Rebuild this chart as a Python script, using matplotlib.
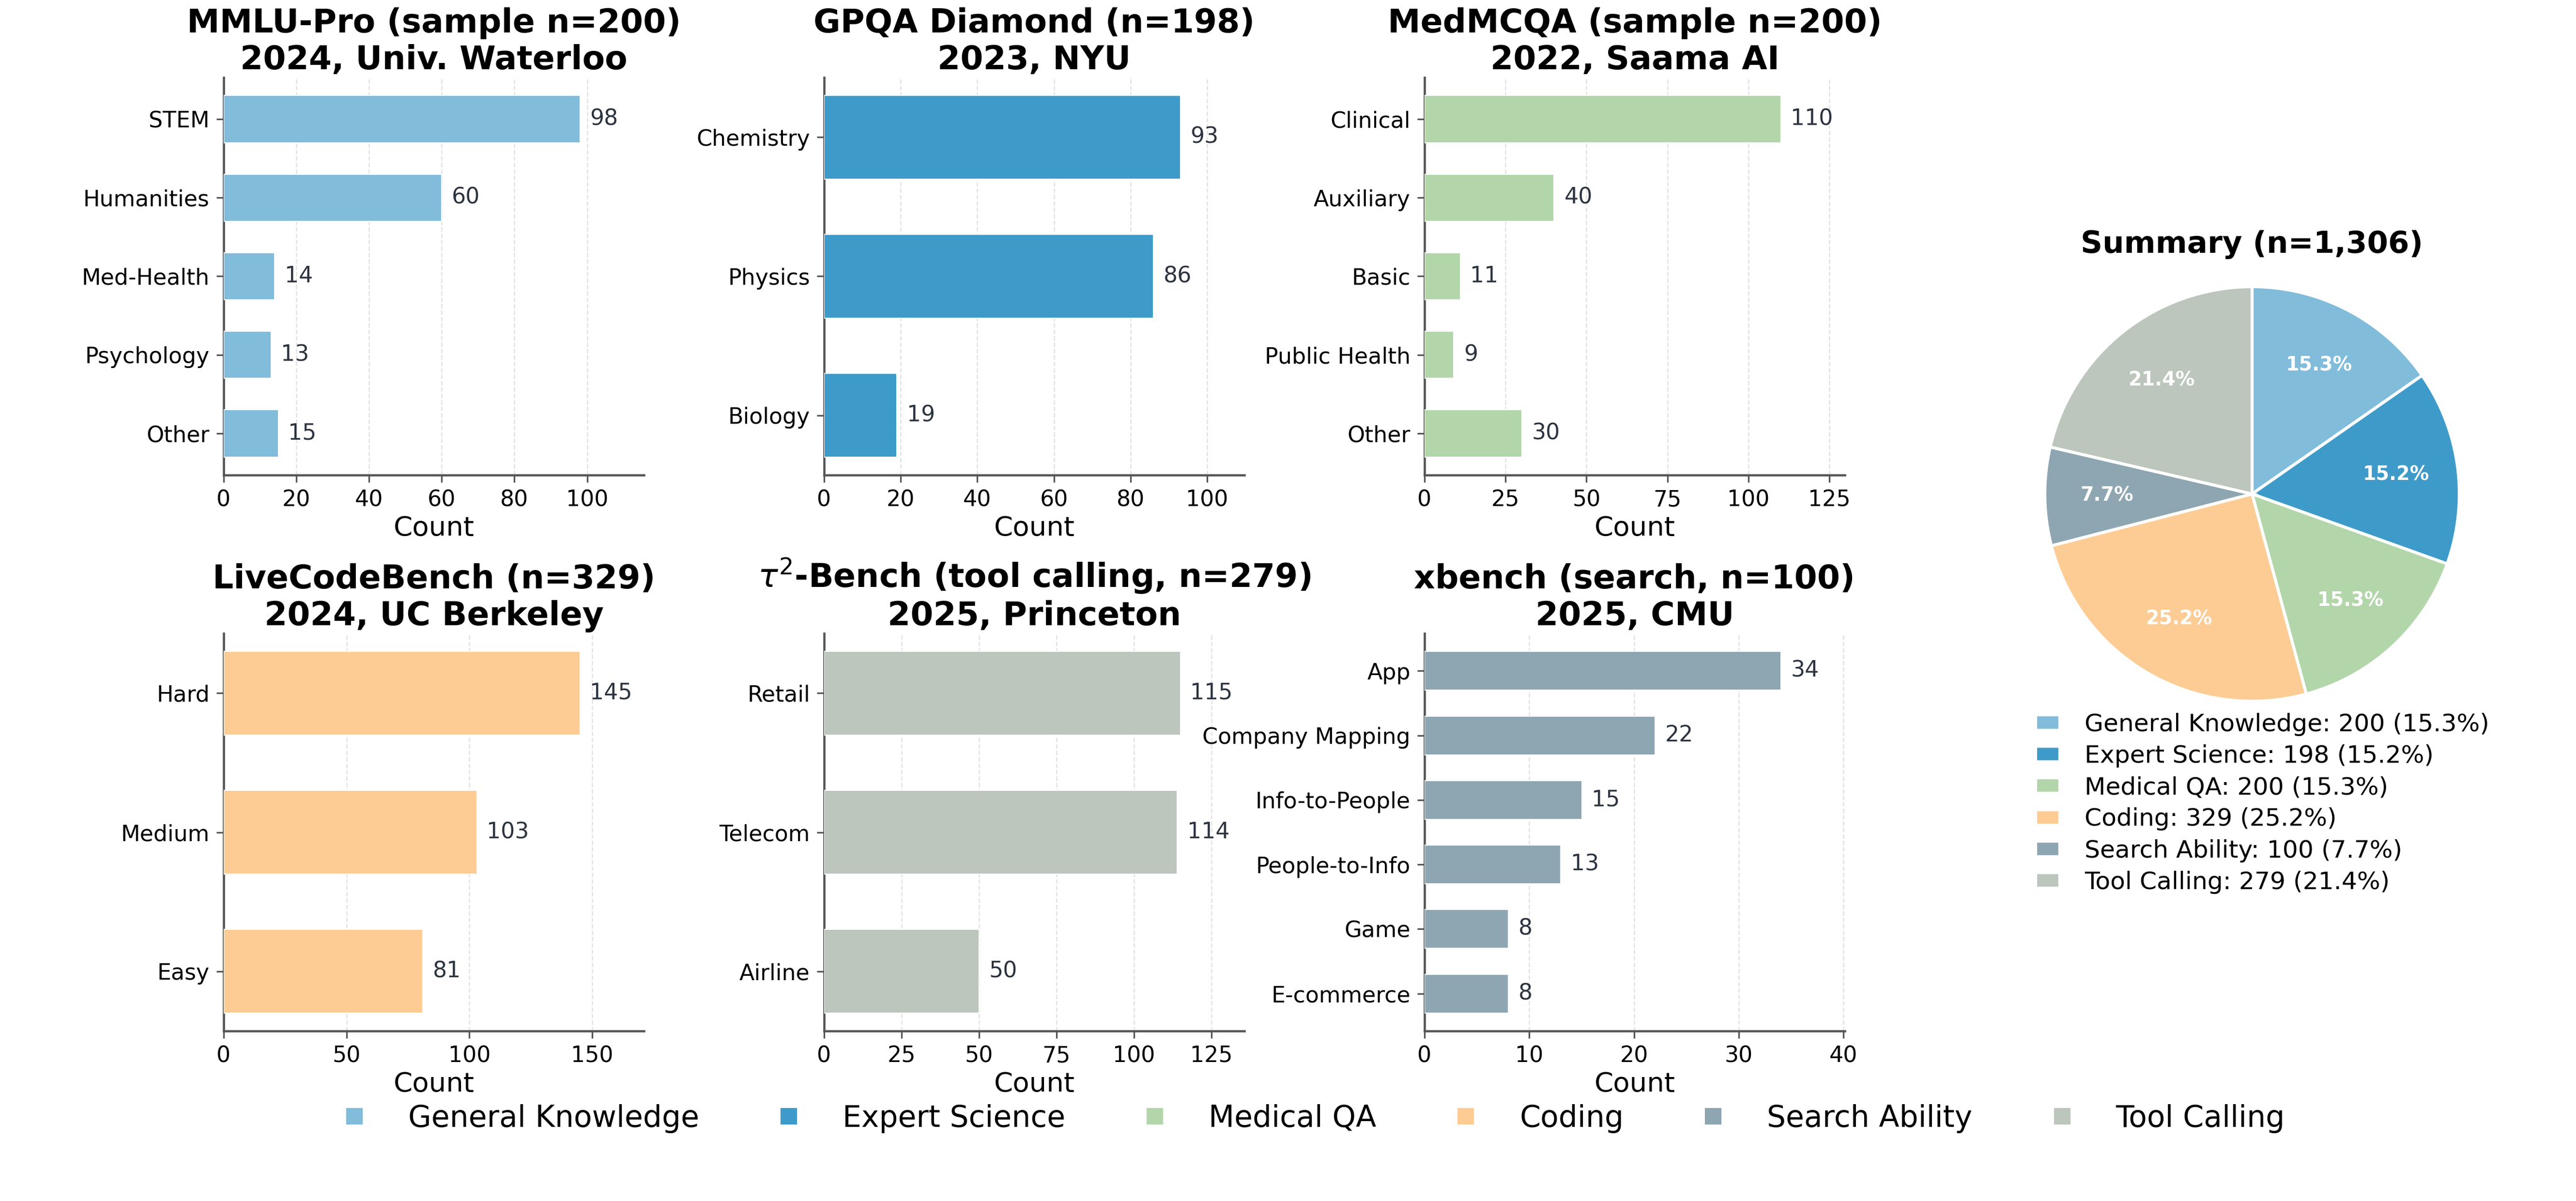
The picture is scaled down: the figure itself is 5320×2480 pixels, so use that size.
import matplotlib
matplotlib.use("Agg")
import matplotlib.pyplot as plt
from matplotlib.lines import Line2D
from matplotlib.ticker import MultipleLocator

# Données des panneaux
mmlu_cats = ["STEM", "Humanities", "Med-Health", "Psychology", "Other"]
mmlu_vals = [98, 60, 14, 13, 15]
gpqa_cats = ["Chemistry", "Physics", "Biology"]
gpqa_vals = [93, 86, 19]
medmcqa_cats = ["Clinical", "Auxiliary", "Basic", "Public Health", "Other"]
medmcqa_vals = [110, 40, 11, 9, 30]
lcb_cats = ["Hard", "Medium", "Easy"]
lcb_vals = [145, 103, 81]
tau_cats = ["Retail", "Telecom", "Airline"]
tau_vals = [115, 114, 50]
xbench_cats = ["App", "Company Mapping", "Info-to-People", "People-to-Info", "Game", "E-commerce"]
xbench_vals = [34, 22, 15, 13, 8, 8]

titles = [
    "MMLU-Pro (sample n=200)\n2024, Univ. Waterloo",
    "GPQA Diamond (n=198)\n2023, NYU",
    "MedMCQA (sample n=200)\n2022, Saama AI",
    "LiveCodeBench (n=329)\n2024, UC Berkeley",
    r"$\tau^2$-Bench (tool calling, n=279)" + "\n2025, Princeton",
    "xbench (search, n=100)\n2025, CMU",
]

groups = ["General Knowledge", "Expert Science", "Medical QA", "Coding", "Search Ability", "Tool Calling"]
group_counts = [200, 198, 200, 329, 100, 279]
colors = ["#81bcdb", "#3e9bc9", "#b2d6aa", "#fdcc94", "#8ea6b2", "#bcc6bd"]
# groupe de chaque panneau (tau2 -> Tool Calling, xbench -> Search Ability)
panel_group = [0, 1, 2, 3, 5, 4]
tick_steps = [20, 20, 25, 50, 25, 10]

panels = [
    (mmlu_cats, mmlu_vals),
    (gpqa_cats, gpqa_vals),
    (medmcqa_cats, medmcqa_vals),
    (lcb_cats, lcb_vals),
    (tau_cats, tau_vals),
    (xbench_cats, xbench_vals),
]

W, H = 5320, 2480
fig = plt.figure(figsize=(W / 300, H / 300), dpi=300)


def px_axes(left, top, width, height):
    # position en pixels (origine en haut à gauche) -> coordonnées figure
    return fig.add_axes([left / W, 1 - (top + height) / H, width / W, height / H])


lefts = [462, 1702, 2942]
tops = [160, 1308]
spine_c = "#555555"

for i, (cats, vals) in enumerate(panels):
    ax = px_axes(lefts[i % 3], tops[i // 3], 868, 821)
    ax.barh(cats, vals, height=0.6, color=colors[panel_group[i]], edgecolor="white",
            linewidth=0.5, zorder=3)
    ax.invert_yaxis()
    ax.set_xlim(0, max(vals) * 1.18)
    ax.xaxis.set_major_locator(MultipleLocator(tick_steps[i]))
    for c, v in zip(cats, vals):
        ax.annotate(str(v), (v, c), xytext=(5, 0), textcoords="offset points",
                    va="center", ha="left", fontsize=11, color="#2c3440")
    ax.set_title(titles[i], fontsize=16.3, fontweight="bold", pad=4)
    ax.set_xlabel("Count", fontsize=13.5, labelpad=2)
    ax.tick_params(labelsize=11, color=spine_c)
    ax.grid(axis="x", linestyle="--", color="#e2e2e2", linewidth=0.6, zorder=0)
    ax.set_axisbelow(True)
    for s in ["top", "right"]:
        ax.spines[s].set_visible(False)
    for s in ["left", "bottom"]:
        ax.spines[s].set_color(spine_c)
        ax.spines[s].set_linewidth(1.1)

# Camembert de synthèse
total = sum(group_counts)
pax = px_axes(4116, 485, 1070, 1070)
wedges, _, autotexts = pax.pie(group_counts, colors=colors, startangle=90, counterclock=False,
                               autopct="%1.1f%%", pctdistance=0.7,
                               wedgeprops=dict(edgecolor="white", linewidth=1.5),
                               textprops=dict(color="white", fontsize=9.5, fontweight="bold"))
pax.set_xlim(-1.25, 1.25)
pax.set_ylim(-1.25, 1.25)
pax.text(0.5, 0.981, f"Summary (n={total:,})", transform=pax.transAxes,
         ha="center", va="center", fontsize=15, fontweight="bold")
pie_labels = [f"{g}: {c} ({c / total * 100:.1f}%)" for g, c in zip(groups, group_counts)]
pax.legend(wedges, pie_labels, loc="upper center", bbox_to_anchor=(0.52, 0.12),
           frameon=False, fontsize=12.1, handlelength=1.0, handleheight=0.6,
           handletextpad=1.0, labelspacing=0.34)

# Légende commune en bas
handles = [Line2D([], [], marker="s", linestyle="none", markersize=7, color=c) for c in colors]
fig.legend(handles, groups, loc="center", bbox_to_anchor=(0.5065, 1 - 2310 / H), ncol=6,
           frameon=False, fontsize=14.8, columnspacing=2.0)

fig.savefig("out.png", dpi=300)
